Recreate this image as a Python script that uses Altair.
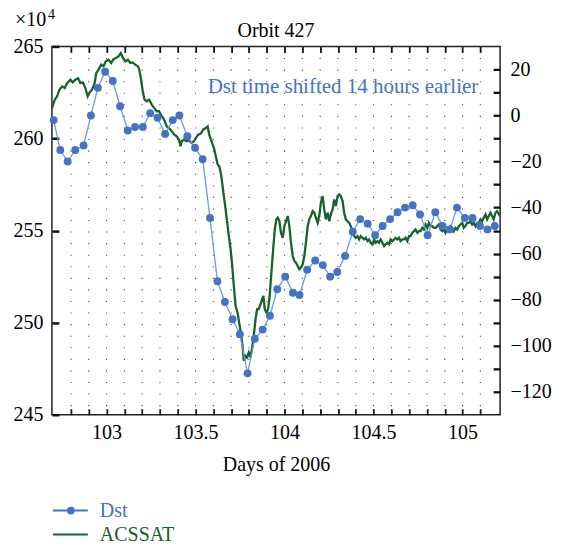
import altair as alt
import pandas as pd

# ---------------- data ----------------
dst_day = [102.703, 102.740, 102.781, 102.824, 102.871, 102.912, 102.951, 102.992,
           103.035, 103.076, 103.119, 103.160, 103.204, 103.245, 103.286, 103.329,
           103.372, 103.409, 103.454, 103.497, 103.540, 103.581, 103.623, 103.665,
           103.708, 103.749, 103.792, 103.833, 103.877, 103.918, 103.959, 104.004,
           104.047, 104.084, 104.127, 104.172, 104.215, 104.256, 104.296, 104.340,
           104.383, 104.425, 104.467, 104.509, 104.551, 104.593, 104.635, 104.677,
           104.720, 104.761, 104.804, 104.847, 104.888, 104.929, 104.969, 105.013,
           105.056, 105.098, 105.140, 105.181]
dst_val = [-2, -15, -20, -15, -13, 0, 12, 19, 15, 4, -6.5, -5, -5, 1, -1, -8,
           -2, 0, -9, -14, -19, -44.5, -72, -81, -88.5, -95, -112, -97, -93, -87,
           -75.5, -70, -77, -78, -67, -63, -65, -70, -68, -61, -50.5, -45, -47, -52,
           -48, -45, -42, -40, -39, -43, -52, -42, -48, -49.5, -40, -44.5, -44.5,
           -48, -49.5, -48]

acs_day = [102.694, 102.709, 102.722, 102.735, 102.750, 102.765, 102.778, 102.797,
           102.810, 102.825, 102.840, 102.853, 102.866, 102.881, 102.894, 102.903,
           102.918, 102.933, 102.942, 102.955, 102.970, 102.983, 102.996, 103.011,
           103.026, 103.039, 103.052, 103.067, 103.080, 103.092, 103.105, 103.120,
           103.133, 103.146, 103.161, 103.176, 103.183, 103.191, 103.202, 103.213,
           103.226, 103.239, 103.254, 103.267, 103.282, 103.295, 103.310, 103.323,
           103.338, 103.351, 103.366, 103.381, 103.394, 103.407, 103.415, 103.422,
           103.435, 103.450, 103.463, 103.478, 103.491, 103.502, 103.515, 103.529,
           103.543, 103.557, 103.568, 103.577, 103.590, 103.603, 103.614, 103.624,
           103.633, 103.642, 103.652, 103.659, 103.669, 103.678, 103.687, 103.697,
           103.706, 103.715, 103.725, 103.736, 103.745, 103.754, 103.764, 103.771,
           103.781, 103.790, 103.799, 103.809, 103.818, 103.827, 103.837, 103.846,
           103.855, 103.865, 103.874, 103.881, 103.889, 103.898, 103.908, 103.917,
           103.926, 103.936, 103.945, 103.954,
           103.962, 103.971, 103.980, 103.990, 103.999, 104.008, 104.018, 104.027,
           104.036, 104.046, 104.055, 104.064, 104.074, 104.083, 104.092, 104.102,
           104.111, 104.120, 104.130, 104.139, 104.148, 104.158, 104.167, 104.176,
           104.186, 104.195, 104.204, 104.214, 104.223, 104.232, 104.242, 104.251,
           104.260, 104.270, 104.279, 104.288, 104.298, 104.307, 104.316, 104.326,
           104.335, 104.344, 104.354, 104.363, 104.372, 104.382, 104.391, 104.400,
           104.410, 104.419, 104.428, 104.438, 104.447, 104.456, 104.466, 104.475,
           104.484, 104.494, 104.503, 104.512, 104.522, 104.531, 104.540, 104.550,
           104.559, 104.568, 104.578, 104.587, 104.596, 104.606, 104.615, 104.624,
           104.634, 104.643, 104.652, 104.662, 104.671, 104.680, 104.690, 104.699,
           104.708, 104.718, 104.727, 104.736, 104.746, 104.755, 104.764, 104.774,
           104.783, 104.792, 104.802, 104.811, 104.820, 104.830, 104.839, 104.848,
           104.858, 104.867, 104.876, 104.886, 104.895, 104.904, 104.914, 104.923,
           104.932, 104.942, 104.951, 104.960, 104.970, 104.979, 104.988, 104.998,
           105.007, 105.016, 105.026, 105.035, 105.045, 105.054, 105.063, 105.073,
           105.082, 105.091, 105.101, 105.110, 105.119, 105.129, 105.138, 105.147,
           105.157, 105.166, 105.175, 105.185, 105.194, 105.209]
acs_val = [261.66, 262.11, 262.29, 262.65, 262.83, 262.74, 263.01, 263.19,
           263.05, 263.19, 263.27, 263.01, 263.05, 262.74, 262.29, 262.47,
           262.65, 263.01, 263.55, 263.74, 264.01, 263.92, 264.19, 264.28,
           264.10, 264.31, 264.37, 264.46, 264.64, 264.37, 264.19, 264.28,
           264.10, 264.13, 264.01, 263.92, 263.77, 263.37, 262.65, 262.11,
           262.02, 262.11, 261.84, 261.66, 261.48, 261.48, 261.21, 261.03,
           260.66, 260.57, 260.39, 260.21, 260.12, 259.94, 259.58, 259.85,
           259.94, 259.85, 259.91, 259.76, 259.85, 260.03, 260.21, 260.27,
           260.48, 260.57, 260.66, 260.21, 259.85, 259.49, 259.04, 258.59,
           258.50, 258.13, 257.41, 256.87, 256.15, 255.42, 254.70, 253.98,
           253.08, 251.99, 250.91, 250.55, 250.00, 249.46, 248.74, 247.93,
           248.20, 248.11, 248.38, 248.11, 248.65, 249.28, 250.19, 250.73,
           250.73, 251.00, 251.27, 251.45, 250.73, 250.55, 250.73, 251.54,
           252.71, 253.98, 255.06, 255.61,
           255.70, 255.51, 254.88, 254.61, 255.24, 255.51, 255.79, 255.24,
           254.34, 253.62, 253.35, 253.26, 253.08, 252.90, 252.99, 253.17,
           253.62, 254.34, 255.24, 255.61, 255.79, 256.06, 255.97, 255.70,
           255.42, 255.79, 256.51, 256.87, 256.15, 255.61, 255.97, 255.51,
           255.88, 256.15, 256.69, 256.33, 256.87, 256.96, 256.87, 256.60,
           255.97, 255.61, 255.51, 255.42, 255.24, 254.97, 254.70, 254.61,
           254.70, 254.52, 254.70, 254.61, 254.52, 254.61, 254.43, 254.52,
           254.34, 254.25, 254.52, 254.34, 254.43, 254.34, 254.52, 254.34,
           254.16, 254.25, 254.34, 254.25, 254.52, 254.43, 254.52, 254.61,
           254.52, 254.61, 254.43, 254.52, 254.52, 254.61, 254.43, 254.70,
           254.70, 254.88, 254.97, 255.06, 254.88, 254.97, 254.97, 255.15,
           255.06, 255.33, 255.15, 255.42, 255.24, 255.24, 255.15, 255.15,
           255.24, 255.33, 255.06, 254.97, 255.06, 254.88, 255.15, 255.06,
           255.24, 255.15, 254.97, 255.15, 255.06, 255.24, 255.33, 255.42,
           255.15, 255.24, 255.42, 255.42, 255.51, 255.33, 255.42, 255.24,
           255.42, 255.42, 255.61, 255.51, 255.70, 255.88, 255.61, 255.79,
           255.97, 255.79, 255.61, 255.97, 256.06, 255.79]

grid_days = [102.8, 102.9, 103.0, 103.1, 103.2, 103.3, 103.4, 103.5, 103.6, 103.7,
             103.8, 103.9, 104.0, 104.1, 104.2, 104.3, 104.4, 104.5, 104.6, 104.7,
             104.8, 104.9, 105.0, 105.1]
x_labels = [103, 103.5, 104, 104.5, 105]
left_ticks = [245, 250, 255, 260, 265]
right_labels = [-120, -100, -80, -60, -40, -20, 0, 20]
right_ticks = [-120, -110, -100, -90, -80, -70, -60, -50, -40, -30, -20, -10, 0, 10, 20]
legend_labels = ["Dst", "ACSSAT"]

title_text = ["Orbit 427"]
note_text = ["Dst time shifted 14 hours earlier"]
note_day = [103.568]
note_dst = [9.9]

# ---------------- styling ----------------
FONT = "Liberation Serif"
BLUE = "#4472c4"
BLUE_LINE = "#6e9ae0"
GREEN = "#16642a"
W, H = 449, 369
XD = [102.693, 105.211]
LD = [245, 265]
RD = [-130, 30]

xs = alt.Scale(domain=XD, nice=False, zero=False)
ls = alt.Scale(domain=LD, nice=False, zero=False)
rs = alt.Scale(domain=RD, nice=False, zero=False)

dst_df = pd.DataFrame({"day": dst_day, "dst": dst_val})
acs_df = pd.DataFrame({"day": acs_day, "acs": acs_val})
grid_df = pd.DataFrame({"day": grid_days})
leg_df = pd.DataFrame({"label": legend_labels, "color": [BLUE, GREEN]})

# dotted grid + bottom labelled axis
grid = alt.Chart(grid_df).mark_rule(color="#444", strokeWidth=1.1, strokeDash=[1.1, 10.49]).encode(
    x=alt.X("day:Q", scale=xs, axis=alt.Axis(
        orient="bottom", values=x_labels, format="~g", ticks=False, domain=False, grid=False,
        labelPadding=7.5, title="Days of 2006", titlePadding=12)),
    y=alt.value(0), y2=alt.value(H),
)

acs_line = alt.Chart(acs_df).mark_line(color=GREEN, strokeWidth=2.3).encode(
    x=alt.X("day:Q", scale=xs, axis=alt.Axis(
        orient="top", offset=-H, values=grid_days, labels=False, domain=False, grid=False,
        tickSize=6, tickWidth=1.8, title=None)),
    y=alt.Y("acs:Q", scale=ls, axis=alt.Axis(
        orient="left", values=left_ticks, ticks=False, domain=False, grid=False,
        labelPadding=9, title=None)),
)

dst_line = alt.Chart(dst_df).mark_line(color=BLUE_LINE, strokeWidth=1.3).encode(
    x=alt.X("day:Q", scale=xs, axis=alt.Axis(
        orient="bottom", offset=-H, values=grid_days, labels=False, domain=False, grid=False,
        tickSize=6, tickWidth=1.8, title=None)),
    y=alt.Y("dst:Q", scale=rs, axis=alt.Axis(
        orient="right", values=right_labels, ticks=False, domain=False, grid=False,
        labelPadding=10, title=None)),
)

dst_pts = alt.Chart(dst_df).mark_circle(color=BLUE, size=62, opacity=1).encode(
    x=alt.X("day:Q", scale=xs, axis=None),
    y=alt.Y("dst:Q", scale=rs, axis=None),
)

left_in = alt.Chart(acs_df).mark_line(opacity=0).encode(
    x=alt.X("day:Q", scale=xs, axis=None),
    y=alt.Y("acs:Q", scale=ls, axis=alt.Axis(
        orient="right", offset=-W, values=left_ticks, labels=False, domain=False, grid=False,
        tickSize=7, tickWidth=2.5, title=None)),
)

right_in = alt.Chart(dst_df).mark_line(opacity=0).encode(
    x=alt.X("day:Q", scale=xs, axis=None),
    y=alt.Y("dst:Q", scale=rs, axis=alt.Axis(
        orient="left", offset=-W, values=right_ticks, labels=False, domain=False, grid=False,
        tickSize=7, tickWidth=2.3, title=None)),
)

note = alt.Chart(pd.DataFrame({"t": note_text, "day": note_day, "dst": note_dst})).mark_text(
    font=FONT, fontSize=21, color=BLUE, align="left", baseline="alphabetic").encode(
    x=alt.X("day:Q", scale=xs, axis=None),
    y=alt.Y("dst:Q", scale=rs, axis=None),
    text="t:N",
)

title = alt.Chart(pd.DataFrame({"t": title_text})).mark_text(
    font=FONT, fontSize=20, color="black", align="center", baseline="alphabetic").encode(
    x=alt.value(W / 2), y=alt.value(-9), text="t:N")

times10 = alt.Chart(pd.DataFrame({"t": ["×10"]})).mark_text(
    font=FONT, fontSize=20, color="black", align="left", baseline="alphabetic").encode(
    x=alt.value(-37), y=alt.value(-20), text="t:N")
sup4 = alt.Chart(pd.DataFrame({"t": ["4"]})).mark_text(
    font=FONT, fontSize=14, color="black", align="left", baseline="alphabetic").encode(
    x=alt.value(-4), y=alt.value(-27), text="t:N")

ly = alt.Y("label:N", scale=alt.Scale(type="point", domain=legend_labels, range=[465, 489], padding=0), axis=None)
leg_rule = alt.Chart(leg_df).mark_rule(strokeWidth=2).encode(
    x=alt.value(1), x2=alt.value(36), y=ly, color=alt.Color("color:N", scale=None))
leg_pt = alt.Chart(leg_df.iloc[:1]).mark_circle(size=62, color=BLUE, opacity=1).encode(
    x=alt.value(19), y=ly)
leg_txt = alt.Chart(leg_df).mark_text(font=FONT, fontSize=20, align="left", baseline="middle").encode(
    x=alt.value(48), y=ly, text="label:N", color=alt.Color("color:N", scale=None))

chart = alt.layer(
    grid, acs_line, dst_line, dst_pts, left_in, right_in, note, title, times10, sup4,
    leg_rule, leg_pt, leg_txt,
).resolve_scale(y="independent").resolve_axis(x="independent", y="independent").properties(
    width=W, height=H,
    autosize=alt.AutoSizeParams(type="none"),
    padding={"left": 44, "top": 38, "right": 55, "bottom": 133},
).configure_view(stroke="#222", strokeWidth=1.5).configure_axis(
    labelFont=FONT, labelFontSize=20, labelColor="black",
    titleFont=FONT, titleFontSize=20, titleColor="black", titleFontWeight="normal",
    tickColor="#111",
)

chart.save("out.html", embed_options={"renderer": "svg", "actions": False})
